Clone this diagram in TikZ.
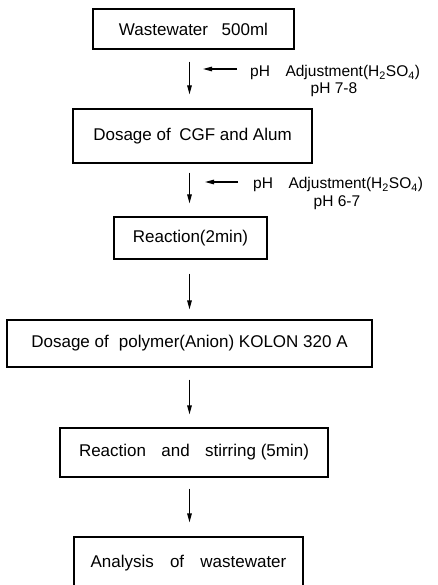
\documentclass[tikz,border=0pt]{standalone}
\usepackage{fontspec}
\setmainfont{Liberation Sans}
\usetikzlibrary{arrows.meta}
\begin{document}
\begin{tikzpicture}[x=1pt,y=-1pt,
  stepbox/.style={draw, line width=1.2pt, inner sep=0pt, font=\fontsize{17}{20}\selectfont},
  flow/.style={line width=1.2pt, -{Triangle[length=9pt,width=4.5pt]}},
  note/.style={inner sep=0pt, font=\fontsize{15.5}{18}\selectfont}]
\useasboundingbox (0,0) rectangle (438,585);

% process steps
\node[stepbox, minimum width=201pt, minimum height=40pt] (b1) at (193.5,29)
  {Wastewater\hspace{0.8em}500ml};
\node[stepbox, minimum width=239pt, minimum height=54pt] (b2) at (192.5,136)
  {Dosage of\hspace{0.5em}CGF and Alum};
\node[stepbox, minimum width=153pt, minimum height=42pt] (b3) at (190.5,238)
  {Reaction(2min)};
\node[stepbox, minimum width=365pt, minimum height=47pt] (b4) at (189.5,343.5)
  {Dosage of\hspace{0.6em}polymer(Anion) KOLON 320 A};
\node[stepbox, minimum width=268pt, minimum height=49pt] (b5) at (194,452.5)
  {Reaction\hspace{0.9em}and\hspace{0.9em}stirring (5min)};
\node[stepbox, minimum width=229pt, minimum height=52pt] (b6) at (188.5,563)
  {Analysis\hspace{0.95em}of\hspace{0.95em}wastewater};

% main flow
\coordinate (col) at (189.5,0);
\draw[flow, shorten <=12pt, shorten >=14pt] (b1.south -| col) -- (b2.north -| col);
\draw[flow, shorten <=9pt,  shorten >=13pt] (b2.south -| col) -- (b3.north -| col);
\draw[flow, shorten <=14pt, shorten >=10pt] (b3.south -| col) -- (b4.north -| col);
\draw[flow, shorten <=12pt, shorten >=13pt] (b4.south -| col) -- (b5.north -| col);
\draw[flow, shorten <=11pt, shorten >=14pt] (b5.south -| col) -- (b6.north -| col);

% pH adjustments
\node[note, anchor=base west] (p1) at (250,77)
  {pH\hspace{1em}Adjustment(H\textsubscript{2}SO\textsubscript{4})};
\node[note, anchor=base] (p1b) at (334,94) {pH 7-8};
\coordinate (h1) at (203,69);
\draw[flow, shorten <=13pt] (p1.west |- h1) -- (h1);

\node[note, anchor=base west] (p2) at (253,189)
  {pH\hspace{1em}Adjustment(H\textsubscript{2}SO\textsubscript{4})};
\node[note, anchor=base] (p2b) at (337,207) {pH 6-7};
\coordinate (h2) at (205,182);
\draw[flow, shorten <=15pt] (p2.west |- h2) -- (h2);
\end{tikzpicture}
\end{document}
